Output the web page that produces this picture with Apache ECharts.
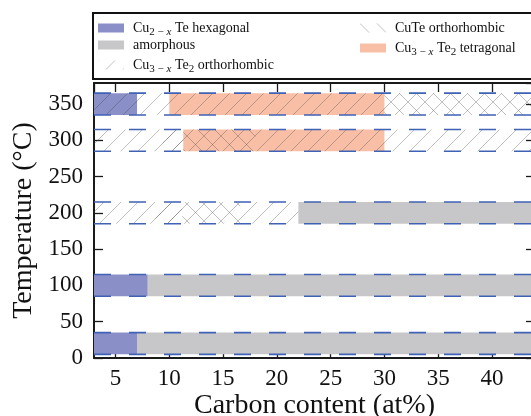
<!DOCTYPE html>
<html>
<head>
<meta charset="utf-8">
<script src="https://cdn.jsdelivr.net/npm/echarts@6/dist/echarts.min.js"></script>
<style>
html,body{margin:0;padding:0;background:#fff;overflow:hidden;}
#chart{width:531px;height:416px;}
</style>
</head>
<body>
<div id="chart"></div>
<script>
// ---- data ----
const rowTemps = [20, 100, 200, 300, 350];               // temperatures (°C) of the rows
// each segment: [temperature, carbon start (at%), carbon end (at%)]
const hexagonal  = [[350, 3, 7], [100, 3, 8], [20, 3, 7]];
const amorphous  = [[200, 22, 44], [100, 8, 44], [20, 7, 44]];
const tetragonal = [[350, 10, 30], [300, 11.3, 30]];
const orthoCu3   = [[350, 3, 44], [300, 3, 11.3], [300, 9.4, 44], [200, 3, 11.2], [200, 8.7, 22]];
const orthoCuTe  = [[350, 30, 44], [300, 11.3, 18], [200, 11.2, 16.6]];
const names = {
  hex: 'Cu2−xTe hexagonal',
  amo: 'amorphous',
  o3: 'Cu3−xTe2 orthorhombic',
  cute: 'CuTe orthorhombic',
  tet: 'Cu3−xTe2 tetragonal'
};
const xRange = [3, 44];
const yRange = [0, 379];

// ---- styles ----
const FONT = 'Liberation Serif';
const HALF = 15; // half thickness of a row in °C
function hatch(dir) {
  const d = 17;
  const c = document.createElement('canvas');
  c.width = d; c.height = d;
  const g = c.getContext('2d');
  g.strokeStyle = 'rgba(60,60,60,0.32)';
  g.lineWidth = 1;
  g.beginPath();
  if (dir === '/') {
    g.moveTo(-2, d + 2); g.lineTo(d + 2, -2);
    g.moveTo(-2, 2); g.lineTo(2, -2);
    g.moveTo(d - 2, d + 2); g.lineTo(d + 2, d - 2);
  } else {
    g.moveTo(-2, -2); g.lineTo(d + 2, d + 2);
    g.moveTo(d - 2, -2); g.lineTo(d + 2, 2);
    g.moveTo(-2, d - 2); g.lineTo(2, d + 2);
  }
  g.stroke();
  return { image: c, repeat: 'repeat' };
}
const fillHex = '#8b8fc8';
const fillAmo = '#c7c7c9';
const fillTet = '#f9bea6';
const fillO3 = hatch('/');
const fillCuTe = hatch('\\');

function segSeries(name, data, fill) {
  return {
    type: 'custom', name: name, data: data, clip: true,
    coordinateSystem: 'cartesian2d',
    encode: { x: [1, 2], y: 0 },
    itemStyle: { color: fill },
    renderItem: function (params, api) {
      const t = api.value(0), a = api.value(1), b = api.value(2);
      const p0 = api.coord([a, t + HALF]);
      const p1 = api.coord([b, t - HALF]);
      return { type: 'rect', shape: { x: p0[0], y: p0[1], width: p1[0] - p0[0], height: p1[1] - p0[1] },
               style: { fill: fill } };
    }
  };
}

const rich = {
  t: { fontFamily: FONT, fontSize: 14, color: '#111', lineHeight: 19, verticalAlign: 'middle' },
  s: { fontFamily: FONT, fontSize: 11, color: '#111', lineHeight: 19, verticalAlign: 'bottom' },
  si: { fontFamily: FONT, fontSize: 11, fontStyle: 'italic', color: '#111', lineHeight: 19, verticalAlign: 'bottom' }
};
function legendFmt(n) {
  if (n === names.hex) return '{t|Cu}{s|2 − }{si|x}{t| Te hexagonal}';
  if (n === names.o3) return '{t|Cu}{s|3 − }{si|x}{t| Te}{s|2}{t| orthorhombic}';
  if (n === names.tet) return '{t|Cu}{s|3 − }{si|x}{t| Te}{s|2}{t| tetragonal}';
  return '{t|' + n + '}';
}
function legendItem(name, fill, left, top) {
  return {
    orient: 'vertical', itemWidth: 26, itemHeight: 9, icon: 'rect',
    formatter: legendFmt, selectedMode: false, padding: 0,
    textStyle: { rich: rich, padding: [0, 0, 0, 4] },
    left: left, top: top,
    data: [{ name: name, itemStyle: { color: fill } }]
  };
}

const axisLineStyle = { color: '#1a1a1a', width: 2 };
const tickStyle = { color: '#1a1a1a', width: 1.3 };
const frame = '#111';
const option = {
  animation: false,
  backgroundColor: '#fff',
  graphic: [
    { type: 'rect', silent: true, z: 0, shape: { x: 93, y: 13, width: 438, height: 66 }, style: { fill: '#fff' } },
    { type: 'rect', silent: true, z: 1, shape: { x: 92, y: 12, width: 439, height: 2 }, style: { fill: frame } },
    { type: 'rect', silent: true, z: 1, shape: { x: 92, y: 78, width: 439, height: 2 }, style: { fill: frame } },
    { type: 'rect', silent: true, z: 1, shape: { x: 92, y: 12, width: 2, height: 68 }, style: { fill: frame } }
  ],
  legend: [
    legendItem(names.hex, fillHex, 98, 21),
    legendItem(names.amo, fillAmo, 98, 38),
    legendItem(names.o3, fillO3, 98, 58),
    legendItem(names.cute, fillCuTe, 360, 21),
    legendItem(names.tet, fillTet, 360, 41)
  ],
  grid: { left: 94, top: 83, width: 441, height: 275, containLabel: false, outerBoundsMode: 'none' },
  xAxis: [{
    type: 'value', min: xRange[0], max: xRange[1], splitNumber: 8, position: 'bottom',
    name: 'Carbon content (at%)', nameLocation: 'middle', nameGap: 34, nameMoveOverlap: false,
    nameTextStyle: { fontFamily: FONT, fontSize: 28, color: '#111' },
    axisLine: { show: true, onZero: false, lineStyle: axisLineStyle },
    axisTick: { show: true, inside: true, length: 9, lineStyle: tickStyle },
    axisLabel: { margin: 9, fontFamily: FONT, fontSize: 23, color: '#111', showMinLabel: false, showMaxLabel: false },
    splitLine: { show: false }
  }, {
    type: 'value', min: xRange[0], max: xRange[1], splitNumber: 8, position: 'top',
    axisLine: { show: true, onZero: false, lineStyle: axisLineStyle },
    axisTick: { show: true, inside: true, length: 9, lineStyle: tickStyle },
    axisLabel: { show: false }, splitLine: { show: false }
  }],
  yAxis: [{
    type: 'value', min: yRange[0], max: yRange[1], interval: 50, position: 'left',
    name: 'Temperature (°C)', nameLocation: 'middle', nameGap: 55, nameRotate: 90,
    nameTextStyle: { fontFamily: FONT, fontSize: 28, color: '#111' },
    axisLine: { show: true, onZero: false, lineStyle: axisLineStyle },
    axisTick: { show: true, inside: true, length: 9, lineStyle: tickStyle },
    axisLabel: { margin: 11, fontFamily: FONT, fontSize: 23, color: '#111', showMaxLabel: false },
    splitLine: { show: false }
  }, {
    type: 'value', min: yRange[0], max: yRange[1], interval: 50, position: 'right',
    axisLine: { show: true, onZero: false, lineStyle: axisLineStyle },
    axisTick: { show: true, inside: true, length: 9, lineStyle: tickStyle },
    axisLabel: { show: false }, splitLine: { show: false }
  }],
  series: [
    segSeries(names.hex, hexagonal, fillHex),
    segSeries(names.amo, amorphous, fillAmo),
    segSeries(names.tet, tetragonal, fillTet),
    segSeries(names.o3, orthoCu3, fillO3),
    segSeries(names.cute, orthoCuTe, fillCuTe),
    {
      type: 'custom', name: 'edges', data: rowTemps.map(t => [t]), clip: true,
      coordinateSystem: 'cartesian2d', encode: { y: 0 },
      renderItem: function (params, api) {
        const t = api.value(0);
        const children = [t + HALF, t - HALF].map(function (v) {
          const a = api.coord([xRange[0], v]), b = api.coord([xRange[1], v]);
          return { type: 'line', shape: { x1: a[0], y1: a[1], x2: b[0], y2: b[1] },
                   style: { stroke: '#3f62b5', lineWidth: 1.6, lineDash: [17, 18] } };
        });
        return { type: 'group', children: children };
      }
    }
  ]
};
const chart = echarts.init(document.getElementById('chart'), null, { renderer: 'canvas' });
chart.setOption(option);
</script>
</body>
</html>
